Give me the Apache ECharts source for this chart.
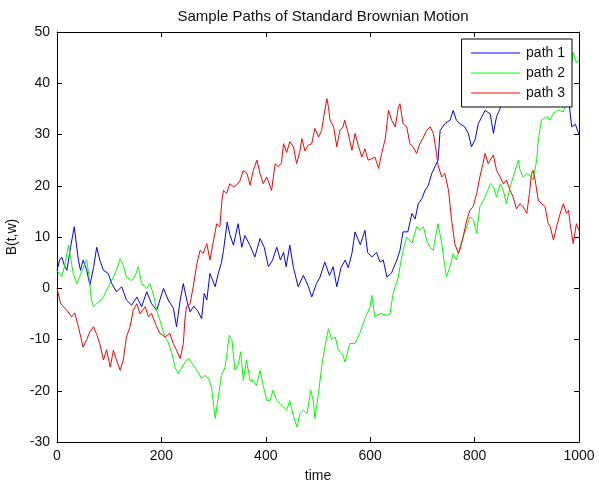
<!DOCTYPE html>
<html>
<head>
<meta charset="utf-8">
<script src="https://cdn.jsdelivr.net/npm/echarts@6/dist/echarts.min.js"></script>
<style>
  html, body { margin: 0; padding: 0; background: #fff; }
  #chart { width: 599px; height: 485px; }
</style>
</head>
<body>
<div id="chart"></div>
<script>
// sample paths (time, B(t,w))
const path1Time = [0, 5, 9, 14, 19, 26, 33, 41, 45, 50, 57, 63, 70, 76, 82, 89, 98, 105, 114, 124, 133, 143, 153, 162, 172, 181, 191, 204, 213, 223, 229, 236, 242, 249, 255, 262, 270, 277, 282, 287, 293, 303, 309, 315, 319, 326, 331, 338, 347, 354, 360, 369, 379, 389, 397, 405, 413, 421, 428, 434, 439, 446, 453, 462, 472, 481, 488, 497, 504, 513, 522, 529, 536, 544, 552, 558, 565, 571, 581, 590, 595, 603, 612, 619, 625, 632, 641, 651, 657, 663, 672, 680, 686, 692, 699, 705, 711, 718, 724, 730, 734, 743, 753, 759, 765, 772, 781, 788, 794, 801, 807, 814, 820, 830, 836, 842, 849, 860, 875, 890, 905, 920, 935, 950, 965, 980, 986, 993, 1000]
const path1Value = [3.5, 5.5, 6.1, 4.5, 3.5, 8, 12, 5.5, 3.5, 5.5, 3.5, 0.6, 4, 8, 5.5, 3.5, 2.9, 0.9, -0.7, 0.3, -2.3, -3.3, -1.7, -3.6, -0.7, -3, -4.3, 0, -2.3, -3.9, -7.5, -2.3, 0.9, -2.5, -4.6, -3.5, -4.5, -5.9, -1, -2.3, 2.9, 0.3, 2.9, 5, 7.4, 12.9, 10.5, 8.4, 12.6, 8, 10.3, 8.5, 6.1, 9.7, 8, 4.2, 5.5, 8, 5.5, 7, 4.2, 8.4, 4, 0.3, 2.5, 0.5, -1.7, 0.9, 2.2, 5.1, 2.5, 4.2, 0.3, 4, 5.5, 4, 6.8, 11, 8.5, 11.3, 7, 6.1, 7, 5.1, 5.5, 2.2, 3, 5.5, 7.4, 11, 11, 14.6, 13.5, 16.5, 17.5, 19.1, 20, 22.4, 23.7, 25, 30.8, 32.1, 32.8, 34.7, 32.8, 32.1, 31.5, 30.2, 27.6, 29, 32.1, 33.5, 34.7, 34, 30.2, 33.5, 35.1, 38, 41, 39, 42, 40, 43, 40, 38, 37, 31.5, 32, 30]

const path2Time = [0, 9, 15, 22, 26, 31, 38, 47, 57, 61, 66, 70, 76, 82, 89, 98, 108, 114, 121, 127, 133, 143, 150, 156, 162, 172, 178, 184, 191, 197, 207, 213, 220, 226, 232, 239, 245, 252, 261, 268, 277, 283, 290, 296, 303, 309, 315, 322, 330, 335, 341, 347, 352, 357, 363, 370, 376, 382, 389, 395, 402, 408, 414, 421, 430, 440, 446, 453, 460, 465, 472, 479, 486, 491, 494, 501, 507, 513, 520, 526, 533, 539, 546, 552, 561, 571, 580, 590, 600, 603, 609, 619, 632, 638, 644, 654, 657, 663, 670, 680, 689, 695, 702, 708, 714, 721, 724, 730, 737, 743, 746, 753, 759, 765, 772, 778, 785, 791, 798, 804, 810, 817, 823, 830, 836, 842, 849, 855, 861, 868, 874, 880, 884, 887, 893, 900, 909, 912, 919, 922, 928, 938, 944, 951, 960, 970, 973, 980, 989, 995, 1000]
const path2Value = [3.5, 2.2, 4.5, 8.4, 6, 2.9, 0.9, 3.2, 5.5, 2.5, -2.3, -3.6, -3, -2.5, -1.7, 0.3, 2.2, 3.5, 5.8, 4.5, 2.2, 1.5, 2.5, 4.2, 0.9, 0, 0.9, -1, -4.3, -6.2, -9.5, -10.5, -12.7, -15.4, -16.6, -15.5, -14.5, -13.7, -15, -16, -17.6, -17, -17.6, -19.3, -25.4, -21.2, -17, -15.4, -9.2, -10, -16, -15, -12.4, -18, -14, -18, -18, -19, -16, -19, -21.9, -21.9, -19.9, -21.9, -22.8, -23.8, -21.9, -25, -27.1, -24.5, -23.8, -24.5, -19.9, -22, -25.4, -20.5, -15.4, -11.5, -7.9, -10, -9.5, -12.1, -12.7, -14.4, -10.8, -10.8, -8.8, -5.9, -3.6, -1.4, -5.6, -4.9, -5.3, -4.9, -1, 2.2, 4.2, 7.4, 10, 8.8, 12, 11.3, 12, 9.4, 8, 7.4, 9.4, 12.6, 8.8, 4.2, 2.2, 4.2, 6.8, 5.5, 8, 10, 12, 13.9, 13.3, 10.7, 15.9, 17.2, 18.5, 20.4, 19.8, 17.8, 20.4, 19.1, 16.5, 19.8, 21.7, 23.7, 25, 23, 21.7, 22.4, 21.7, 21.1, 25, 28.9, 32.8, 33.5, 32.8, 34.1, 34.8, 34.4, 35.4, 40, 46, 44, 44.5]

const path3Time = [0, 4, 7, 9, 19, 28, 34, 41, 50, 57, 63, 70, 76, 82, 89, 95, 102, 108, 114, 121, 124, 127, 133, 140, 146, 153, 159, 169, 175, 181, 191, 197, 207, 216, 223, 229, 236, 242, 245, 248, 255, 261, 268, 274, 280, 287, 293, 300, 306, 312, 316, 319, 325, 331, 338, 344, 351, 357, 364, 370, 376, 383, 389, 395, 402, 411, 418, 424, 430, 434, 440, 446, 453, 459, 465, 469, 475, 481, 488, 494, 501, 507, 511, 517, 520, 523, 530, 536, 542, 548, 551, 558, 565, 571, 578, 584, 590, 596, 603, 609, 616, 622, 629, 635, 641, 648, 654, 657, 663, 670, 676, 682, 689, 695, 702, 708, 715, 721, 727, 730, 737, 743, 750, 756, 762, 769, 772, 778, 785, 791, 797, 804, 810, 816, 820, 826, 830, 836, 842, 849, 855, 861, 868, 874, 880, 887, 893, 900, 905, 909, 912, 916, 922, 928, 935, 941, 945, 951, 957, 964, 970, 976, 980, 983, 989, 995, 1000]
const path3Value = [0, -1.7, -3, -3.3, -4.3, -5.6, -4.8, -7.5, -11.5, -10, -8.5, -7.5, -9, -10.8, -14, -12, -15.4, -12.1, -14, -16, -16.3, -14, -9.5, -7.5, -4.3, -3, -5, -3.6, -5.5, -4.9, -7.5, -8.8, -9.5, -8.8, -10.8, -12.1, -13.7, -10.8, -6.2, -3.6, -3, 0.3, 4.8, 7.4, 6.8, 8.7, 5.5, 9.4, 12.6, 12, 17.2, 19.1, 18.5, 20.4, 19.8, 20.1, 21.1, 23, 22.4, 20.1, 23, 25, 22.4, 20.4, 21.7, 19.1, 24.3, 23.7, 24.5, 28.2, 26.5, 28.6, 27.6, 24.3, 26.5, 29.2, 26.8, 27.9, 28.2, 31.2, 29.5, 30.8, 33.5, 37, 35.4, 32.8, 31.5, 27.6, 30.8, 31.5, 32.8, 30.2, 26.9, 30.2, 27.6, 25.6, 27.2, 25, 25.3, 25.6, 23.4, 26.3, 29.2, 34.7, 32.8, 31.5, 35.4, 36, 32.1, 31.5, 28.2, 27.6, 26.3, 28.2, 29.5, 30.8, 31.5, 30.2, 26.3, 24, 21.7, 22.4, 19.1, 13.3, 8.7, 6.8, 7.5, 10, 13.3, 15.2, 15.9, 18.5, 21.7, 24.3, 26.3, 24.3, 25, 26, 23, 21.7, 20.4, 21.1, 19.1, 17.8, 15.5, 16.5, 15.9, 14.6, 18.5, 22.4, 23, 21.1, 17.2, 16.5, 15.9, 12.6, 12, 9.4, 12, 14.6, 16.5, 14.6, 15.2, 12.6, 8.7, 12.6, 11.3]

const pathNames = ['path 1', 'path 2', 'path 3']
const pathColors = ['#0000ff', '#00ff00', '#ff0000']

function pairs (times, values) {
  return times.map((t, i) => [t, values[i]])
}

const font = 'Liberation Sans, Arial, sans-serif'
const labelStyle = { color: '#111', fontSize: 14, fontFamily: font }

function boxAxis (position, show, extra) {
  return Object.assign({
    type: 'value',
    position: position,
    axisLine: { show: true, onZero: false, lineStyle: { color: '#000', width: 1 } },
    axisTick: { show: true, inside: true, length: 5, lineStyle: { color: '#000' } },
    axisLabel: Object.assign({ show: show, margin: 7, formatter: v => String(v) }, labelStyle),
    splitLine: { show: false }
  }, extra)
}

const xRange = { min: 0, max: 1000, interval: 200 }
const yRange = { min: -30, max: 50, interval: 10 }

const chart = echarts.init(document.getElementById('chart'), null, { renderer: 'canvas' })
chart.setOption({
  animation: false,
  backgroundColor: '#fff',
  title: {
    text: 'Sample Paths of Standard Brownian Motion',
    left: 318,
    textAlign: 'center',
    top: 4,
    textStyle: { fontSize: 15, fontWeight: 'normal', color: '#111', fontFamily: font }
  },
  grid: { left: 57, right: 20, top: 32, bottom: 43, containLabel: false, outerBoundsMode: 'none' },
  legend: {
    data: pathNames,
    orient: 'vertical',
    right: 27,
    top: 39,
    backgroundColor: '#fff',
    borderColor: '#000',
    borderWidth: 1,
    borderRadius: 0,
    padding: [7, 7, 7, 9],
    itemGap: 6,
    itemWidth: 49,
    itemHeight: 14,
    itemStyle: { opacity: 0 },
    lineStyle: { width: 1 },
    textStyle: { color: '#111', fontSize: 14, fontFamily: font, padding: [0, 0, 0, 1] }
  },
  xAxis: [
    boxAxis('bottom', true, Object.assign({
      name: 'time',
      nameLocation: 'middle',
      nameGap: 27,
      nameTextStyle: labelStyle
    }, xRange)),
    boxAxis('top', false, xRange)
  ],
  yAxis: [
    boxAxis('left', true, Object.assign({
      name: 'B(t,w)',
      nameLocation: 'middle',
      nameGap: 37,
      nameTextStyle: labelStyle
    }, yRange)),
    boxAxis('right', false, yRange)
  ],
  series: [
    { time: path1Time, value: path1Value },
    { time: path2Time, value: path2Value },
    { time: path3Time, value: path3Value }
  ].map((p, i) => ({
    name: pathNames[i],
    type: 'line',
    symbol: 'none',
    lineStyle: { width: 1, color: pathColors[i] },
    itemStyle: { color: pathColors[i] },
    data: pairs(p.time, p.value)
  }))
})
</script>
</body>
</html>
